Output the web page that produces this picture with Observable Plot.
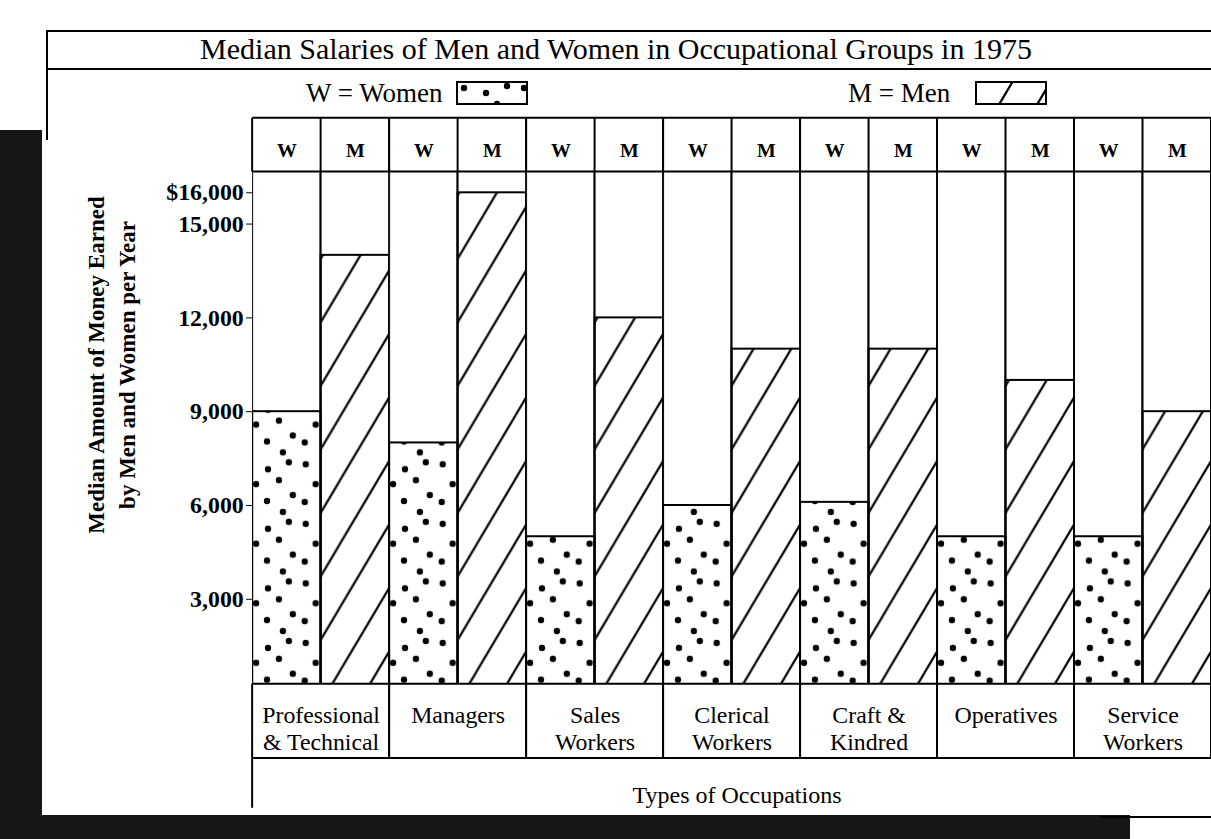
<!DOCTYPE html>
<html><head><meta charset="utf-8">
<script src="https://cdn.jsdelivr.net/npm/d3@7"></script>
<script src="https://cdn.jsdelivr.net/npm/@observablehq/plot@0.6"></script>
<style>
html,body{margin:0;padding:0;background:#fff;}
body{width:1211px;height:839px;overflow:hidden;position:relative;font-family:"Liberation Serif","DejaVu Serif",serif;color:#000;}
.abs{position:absolute;}
.hl{position:absolute;height:2px;background:#000;}
.vl{position:absolute;width:2px;background:#000;}
.scan{position:absolute;background:#161616;}
</style></head><body>
<svg width="0" height="0" style="position:absolute">
  <defs>
    <pattern id="dots" patternUnits="userSpaceOnUse" width="60" height="60">
      <circle cx="8" cy="7" r="3.2"/><circle cx="30" cy="12" r="3.2"/><circle cx="51" cy="5" r="3.2"/>
      <circle cx="18" cy="27" r="3.2"/><circle cx="41" cy="23" r="3.2"/><circle cx="55" cy="38" r="3.2"/>
      <circle cx="7" cy="45" r="3.2"/><circle cx="29" cy="44" r="3.2"/><circle cx="45" cy="55" r="3.2"/>
    </pattern>
    <pattern id="hatch" patternUnits="userSpaceOnUse" width="38" height="64">
      <path d="M0,64L38,0M-3.8,6.4L3.8,-6.4M34.2,70.4L41.8,57.6" stroke="#000" stroke-width="2.2" fill="none"/>
    </pattern>
  </defs>
</svg>

<!-- outer frame / title -->
<div class="hl" style="left:47px;top:30px;width:1170px;"></div>
<div class="vl" style="left:46px;top:30px;height:110px;"></div>
<div class="abs" id="title" style="left:48px;width:1136px;top:30px;height:38px;line-height:38px;text-align:center;font-size:30px;">Median Salaries of Men and Women in Occupational Groups in 1975</div>
<div class="hl" style="left:47px;top:68px;width:1170px;"></div>

<!-- legend -->
<div class="abs" style="left:306px;top:78px;font-size:27px;line-height:30px;">W = Women</div>
<svg class="abs" style="left:456px;top:81px;" width="72" height="24"><rect x="1" y="1" width="70" height="22" fill="url(#dots)" stroke="#000" stroke-width="2"/></svg>
<div class="abs" style="left:848px;top:78px;font-size:27px;line-height:30px;">M = Men</div>
<svg class="abs" style="left:975px;top:81px;" width="72" height="24"><rect x="1" y="1" width="70" height="22" fill="url(#hatch)" stroke="#000" stroke-width="2"/></svg>

<!-- y axis title -->
<div class="abs" style="left:-88px;top:334px;width:400px;height:62px;line-height:31px;text-align:center;font-size:23px;font-weight:bold;transform:rotate(-90deg);transform-origin:200px 31px;">Median Amount of Money Earned<br>by Men and Women per Year</div>

<div id="chart" class="abs" style="left:0;top:100px;"></div>

<!-- x axis title -->
<div class="abs" style="left:537px;width:400px;top:780px;line-height:30px;text-align:center;font-size:24px;">Types of Occupations</div>

<!-- scan edges -->
<div class="scan" style="left:0;top:130px;width:42px;height:709px;"></div>
<div class="scan" style="left:0;top:815px;width:1130px;height:24px;"></div>
<div class="hl" style="left:1100px;top:816px;width:111px;"></div>

<script>
const categories = ["Professional & Technical","Managers","Sales Workers","Clerical Workers","Craft & Kindred","Operatives","Service Workers"];
const categoryLabels = ["Professional\n& Technical","Managers","Sales\nWorkers","Clerical\nWorkers","Craft &\nKindred","Operatives","Service\nWorkers"];
const sexes = ["W","M"];
const women = [9000, 8000, 5000, 6000, 6100, 5000, 5000];
const men   = [14000, 16000, 12000, 11000, 11000, 10000, 9000];
const yTicks = [3000, 6000, 9000, 12000, 15000, 16000];
const yTop = 16700; // value at the top edge of the plotting area

const rows = categories.flatMap((c, i) => [
  {category: c, sex: "W", value: women[i]},
  {category: c, sex: "M", value: men[i]}
]);
const labelOf = new Map(categories.map((c, i) => [c, categoryLabels[i]]));

const W = 1220, H = 739, mT = 72, mB = 151, mL = 254;
const plot = Plot.plot({
  width: W, height: H,
  marginLeft: mL, marginRight: 0, marginTop: mT, marginBottom: mB,
  style: {fontFamily: "'Liberation Serif', 'DejaVu Serif', serif", background: "transparent", overflow: "visible", color: "#000"},
  fx: {domain: categories, padding: 0, round: false, axis: null, label: null},
  x: {domain: sexes, padding: 0, round: false, axis: null},
  y: {domain: [0, 16000], range: [597, 93], axis: null},
  marks: [
    Plot.barY(rows, {fx: "category", x: "sex", y1: 0, y2: yTop, fill: "white", stroke: "#000", strokeWidth: 2, clip: true}),
    Plot.barY(rows.filter(d => d.sex === "W"), {fx: "category", x: "sex", y1: 0, y2: "value", fill: "url(#dots)", stroke: "#000", strokeWidth: 2, clip: true}),
    Plot.barY(rows.filter(d => d.sex === "M"), {fx: "category", x: "sex", y1: 0, y2: "value", fill: "url(#hatch)", stroke: "#000", strokeWidth: 2, clip: true}),
    Plot.text(rows, {fx: "category", x: "sex", text: "sex", frameAnchor: "top", dy: -29, fontSize: 20, fontWeight: "bold"}),
    Plot.text(categories, {fx: d => d, text: d => labelOf.get(d), frameAnchor: "bottom", lineAnchor: "top", dy: 20, fontSize: 24, lineHeight: 1.125}),
    Plot.axisY({ticks: yTicks, tickFormat: d => d === 16000 ? "$16,000" : d3.format(",")(d), tickSize: 6, tickPadding: 3, fontSize: 24, fontWeight: "bold", label: null})
  ]
});
document.getElementById("chart").appendChild(plot);

// table rules of the header row and category row, placed with the fx scale
const fx = plot.scale("fx");
const bw = fx.bandwidth;
const left = fx.apply(categories[0]);
const right = fx.apply(categories[categories.length - 1]) + bw;
const headTop = mT - 54, frameTop = mT, frameBot = H - mB, catBot = frameBot + 75, boxBot = catBot + 50;
const g = d3.select(plot).append("g").attr("stroke", "#000").attr("stroke-width", 2).attr("fill", "none");
for (const yy of [headTop, frameTop, frameBot, catBot]) g.append("line").attr("x1", left).attr("x2", right).attr("y1", yy).attr("y2", yy);
categories.forEach(c => {
  const x0 = fx.apply(c);
  [x0, x0 + bw / 2, x0 + bw].forEach(xx => g.append("line").attr("x1", xx).attr("x2", xx).attr("y1", headTop).attr("y2", frameTop));
  [x0, x0 + bw].forEach(xx => g.append("line").attr("x1", xx).attr("x2", xx).attr("y1", frameBot).attr("y2", catBot));
});
g.append("line").attr("x1", left).attr("x2", left).attr("y1", catBot).attr("y2", boxBot);
</script>
</body></html>
